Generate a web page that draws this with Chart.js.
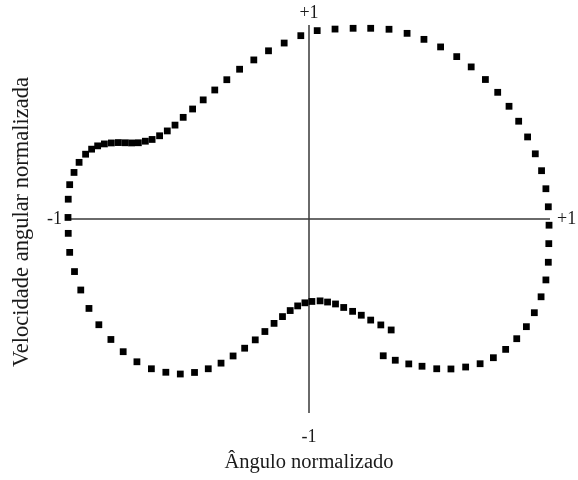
<!DOCTYPE html>
<html>
<head>
<meta charset="utf-8">
<script src="https://cdn.jsdelivr.net/npm/chart.js@4.4.0/dist/chart.umd.min.js"></script>
<style>
  html, body { margin: 0; padding: 0; background: #fff; }
  #wrap { width: 578px; height: 480px; }
</style>
</head>
<body>
<div id="wrap"><canvas id="phase" width="578" height="480"></canvas></div>
<script>
// trajetória no plano de fase (ângulo, velocidade angular), ambos normalizados
const angulo = [
  0.308, 0.358, 0.414, 0.469, 0.530, 0.589, 0.650, 0.710, 0.765, 0.816,
  0.862, 0.902, 0.935, 0.963, 0.983, 0.993, 0.995, 0.996, 0.993, 0.983,
  0.965, 0.939, 0.907, 0.870, 0.830, 0.783, 0.732, 0.673, 0.613, 0.546,
  0.477, 0.407, 0.332, 0.256, 0.183, 0.108, 0.034, -0.034, -0.103, -0.168,
  -0.229, -0.288, -0.341, -0.391, -0.439, -0.483, -0.522, -0.556, -0.588, -0.620,
  -0.651, -0.679, -0.708, -0.736, -0.763, -0.791, -0.820, -0.849, -0.877, -0.902,
  -0.927, -0.954, -0.975, -0.993, -0.999, -1.000, -0.999, -0.993, -0.973, -0.947,
  -0.913, -0.872, -0.822, -0.771, -0.714, -0.654, -0.594, -0.534, -0.475, -0.418,
  -0.365, -0.315, -0.267, -0.223, -0.183, -0.145, -0.110, -0.078, -0.047, -0.017,
  0.012, 0.046, 0.077, 0.110, 0.144, 0.181, 0.217, 0.256, 0.298, 0.341
];
const velocidade = [
  -0.705, -0.728, -0.747, -0.759, -0.772, -0.773, -0.763, -0.746, -0.715, -0.672,
  -0.617, -0.555, -0.483, -0.401, -0.314, -0.223, -0.127, -0.032, 0.063, 0.156,
  0.249, 0.336, 0.423, 0.504, 0.581, 0.653, 0.719, 0.784, 0.837, 0.887,
  0.926, 0.957, 0.978, 0.983, 0.983, 0.979, 0.971, 0.945, 0.907, 0.867,
  0.820, 0.772, 0.718, 0.665, 0.614, 0.567, 0.524, 0.484, 0.454, 0.429,
  0.410, 0.401, 0.393, 0.392, 0.393, 0.394, 0.392, 0.387, 0.377, 0.360,
  0.334, 0.292, 0.240, 0.177, 0.102, 0.008, -0.074, -0.172, -0.271, -0.366,
  -0.461, -0.545, -0.621, -0.684, -0.736, -0.772, -0.790, -0.799, -0.791, -0.772,
  -0.743, -0.706, -0.666, -0.623, -0.580, -0.538, -0.503, -0.472, -0.448, -0.432,
  -0.425, -0.422, -0.428, -0.438, -0.456, -0.476, -0.496, -0.521, -0.546, -0.572
];

// rótulos das extremidades dos eixos
const rotulosX = ['-1', '+1'];
const rotulosY = ['-1', '+1'];
const tituloX = 'Ângulo normalizado';
const tituloY = 'Velocidade angular normalizada';

const pontos = angulo.map((a, i) => ({ x: a, y: velocidade[i] }));

const FONTE = '"Liberation Serif", "Times New Roman", serif';

// desenha os eixos cruzados no centro e os textos
const eixosCruzados = {
  id: 'eixosCruzados',
  beforeDatasetsDraw(chart) {
    const { ctx, scales: { x, y } } = chart;
    const x0 = x.getPixelForValue(0), y0 = y.getPixelForValue(0);
    const xl = x.getPixelForValue(-1), xr = x.getPixelForValue(1);
    const yt = y.getPixelForValue(1), yb = y.getPixelForValue(-1);
    ctx.save();
    ctx.strokeStyle = '#3a3a3a';
    ctx.lineWidth = 1.5;
    ctx.beginPath();
    ctx.moveTo(xl, y0); ctx.lineTo(xr, y0);
    ctx.moveTo(x0, yt); ctx.lineTo(x0, yb);
    ctx.stroke();
    ctx.restore();
  },
  afterDraw(chart) {
    const { ctx, scales: { x, y } } = chart;
    const x0 = x.getPixelForValue(0), y0 = y.getPixelForValue(0);
    const xl = x.getPixelForValue(-1), xr = x.getPixelForValue(1);
    const yt = y.getPixelForValue(1), yb = y.getPixelForValue(-1);
    ctx.save();
    ctx.fillStyle = '#1a1a1a';
    ctx.font = '18px ' + FONTE;
    ctx.textBaseline = 'middle';
    ctx.textAlign = 'right';
    ctx.fillText(rotulosX[0], xl - 6, y0);
    ctx.textAlign = 'left';
    ctx.fillText(rotulosX[1], xr + 7, y0);
    ctx.textAlign = 'center';
    ctx.fillText(rotulosY[1], x0, yt - 12);
    ctx.fillText(rotulosY[0], x0, yb + 24);

    ctx.font = '20.5px ' + FONTE;
    ctx.fillText(tituloX, x0, yb + 50);
    ctx.font = '22.5px ' + FONTE;
    ctx.translate(22, y0 + 3);
    ctx.rotate(-Math.PI / 2);
    ctx.fillText(tituloY, 0, 0);
    ctx.restore();
  }
};

new Chart(document.getElementById('phase'), {
  type: 'scatter',
  data: {
    datasets: [{
      data: pontos,
      pointStyle: 'rect',
      pointRadius: 4.8,
      pointHoverRadius: 4.8,
      backgroundColor: '#000',
      borderColor: '#000',
      borderWidth: 0,
      clip: false
    }]
  },
  options: {
    responsive: false,
    animation: false,
    layout: { padding: { left: 68, right: 28, top: 25, bottom: 67 } },
    plugins: { legend: { display: false }, tooltip: { enabled: false } },
    scales: {
      x: { type: 'linear', min: -1, max: 1, display: false },
      y: { type: 'linear', min: -1, max: 1, display: false }
    }
  },
  plugins: [eixosCruzados]
});
</script>
</body>
</html>
